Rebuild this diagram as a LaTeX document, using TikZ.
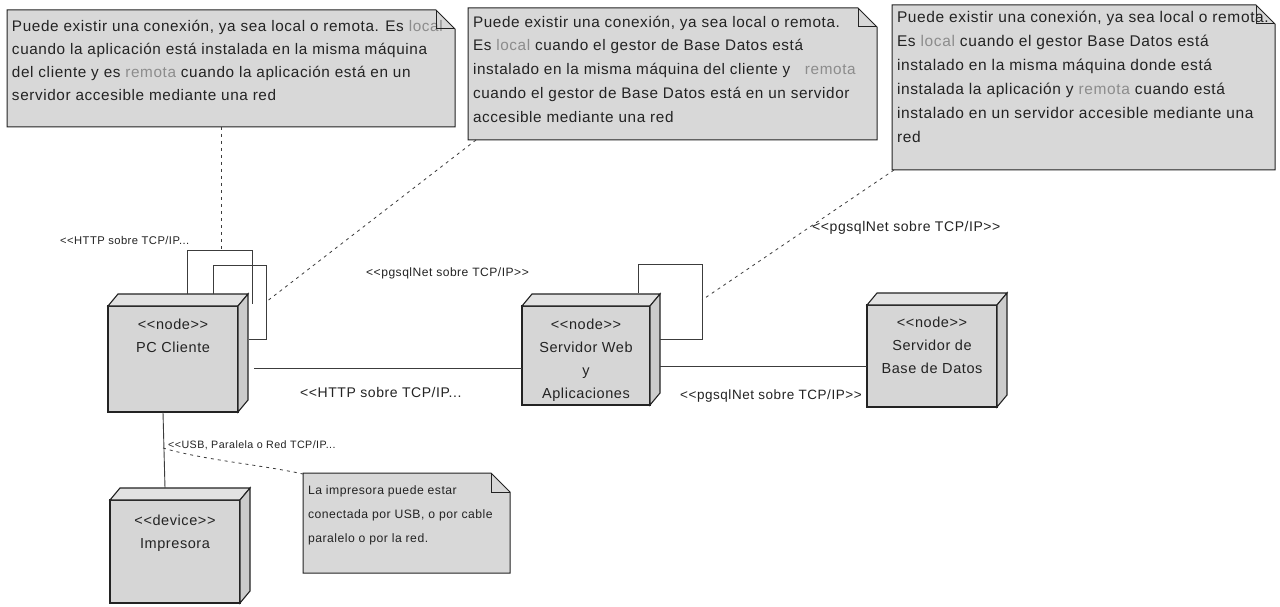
\documentclass[tikz,border=0pt]{standalone}
\usepackage{fontspec}
\setmainfont{Liberation Sans}[LetterSpace=4]
\usetikzlibrary{calc}

\definecolor{paper}{RGB}{255,255,255}
\definecolor{inkc}{RGB}{35,35,35}
\definecolor{notefill}{RGB}{216,216,216}
\definecolor{frontfill}{RGB}{214,214,214}
\definecolor{topfill}{RGB}{226,226,226}
\definecolor{sidefill}{RGB}{204,204,204}
\definecolor{faint}{RGB}{140,140,140}
\definecolor{wire}{RGB}{60,60,60}

\newcommand{\fw}[1]{\textcolor{faint}{#1}}
\newcommand{\notebody}[4]{\parbox[c][#2][t]{#1}{\raggedright\vspace*{#3}\leftskip=5pt #4}}
\newcommand{\fsz}[2]{\fontsize{#1}{#2}\selectfont}

\pgfdeclarelayer{paperlayer}
\pgfdeclarelayer{bg}
\pgfsetlayers{paperlayer,bg,main}

% folded-corner outline for a note node
\newcommand{\notefrm}[1]{%
  \begin{pgfonlayer}{bg}
    \filldraw[noteline, fill=notefill] (#1.north west) -- ([xshift=-19pt]#1.north east)
      -- ([yshift=-19pt]#1.north east) -- (#1.south east) -- (#1.south west) -- cycle;
  \end{pgfonlayer}
  \draw[noteline] ([xshift=-19pt]#1.north east) |- ([yshift=-19pt]#1.north east);
}
% top and side faces of a 3D deployment node
\newcommand{\cubefaces}[1]{%
  \filldraw[ink, fill=topfill] (#1.north west) -- ([shift={(10pt,12pt)}]#1.north west)
    -- ([shift={(10pt,12pt)}]#1.north east) -- (#1.north east) -- cycle;
  \filldraw[ink, fill=sidefill] (#1.north east) -- ([shift={(10pt,12pt)}]#1.north east)
    -- ([shift={(10pt,12pt)}]#1.south east) -- (#1.south east) -- cycle;
}

\begin{document}
\begin{tikzpicture}[x=1pt,y=-1pt,
  ink/.style={draw=inkc, line width=1.1pt},
  noteline/.style={draw=inkc, line width=1pt},
  wireline/.style={draw=wire, line width=0.9pt},
  dotline/.style={draw=wire, line width=0.8pt, dash pattern=on 3pt off 4pt},
  note/.style={anchor=north west, inner sep=0pt, outer sep=0pt, text=inkc},
  dev/.style={ink, fill=frontfill, anchor=north west, inner sep=0pt, outer sep=0pt},
  devtext/.style={anchor=north, inner sep=0pt, align=center, font=\fsz{14.5}{23}, text=inkc},
  lbl/.style={anchor=west, inner sep=0pt, text=inkc}]

\useasboundingbox (0,0) rectangle (1280,607);
\begin{pgfonlayer}{paperlayer}
  \fill[paper] (0,0) rectangle (1280,607);
\end{pgfonlayer}

% ---------- notes ----------
\node[note, font=\fsz{15.3}{23}] (n1) at (7,10) {\notebody{448pt}{117pt}{10pt}{%
Puede existir una conexión, ya sea local o remota. Es \fw{local}\\
cuando la aplicación está instalada en la misma máquina\\
del cliente y es \fw{remota} cuando la aplicación está en un\\
servidor accesible mediante una red}};
\notefrm{n1}

\node[note, font=\fsz{15.3}{23.7}] (n2) at (468,8) {\notebody{409pt}{132pt}{8pt}{%
Puede existir una conexión, ya sea local o remota.\\
Es \fw{local} cuando el gestor de Base Datos está\\
instalado en la misma máquina del cliente y \ \ \fw{remota}\\
cuando el gestor de Base Datos está en un servidor\\
accesible mediante una red}};
\notefrm{n2}

\node[note, font=\fsz{15.5}{24}] (n3) at (892,5) {\notebody{383pt}{165pt}{6pt}{%
Puede existir una conexión, ya sea local o remota.\\
Es \fw{local} cuando el gestor Base Datos está\\
instalado en la misma máquina donde está\\
instalada la aplicación y \fw{remota} cuando está\\
instalado en un servidor accesible mediante una\\
red}};
\notefrm{n3}

\node[note, font=\fsz{12.2}{24}] (n4) at (303,473) {\notebody{207pt}{100pt}{13pt}{%
La impresora puede estar\\
conectada por USB, o por cable\\
paralelo o por la red.}};
\notefrm{n4}

% ---------- deployment nodes ----------
\node[dev, minimum width=130pt, minimum height=106pt] (pc) at (108,306) {};
\cubefaces{pc}
\node[devtext] (pct) at ([yshift=-13pt]pc.north) {<{}<node>{}>\\PC Cliente};

\node[dev, minimum width=128pt, minimum height=99pt] (web) at (522,306) {};
\cubefaces{web}
\node[devtext] (webt) at ([yshift=-13pt]web.north) {<{}<node>{}>\\Servidor Web\\y\\Aplicaciones};

\node[dev, minimum width=130pt, minimum height=102pt] (db) at (867,305) {};
\cubefaces{db}
\node[devtext] (dbt) at ([yshift=-12pt]db.north) {<{}<node>{}>\\Servidor de\\Base de Datos};

\node[dev, minimum width=130pt, minimum height=103pt] (imp) at (110,500) {};
\cubefaces{imp}
\node[devtext] (impt) at ([yshift=-15pt]imp.north) {<{}<device>{}>\\Impresora};

% ---------- self connections ----------
\draw[wireline] ([shift={(79pt,12pt)}]pc.north west) -- ++(0,-44) coordinate (p1l)
  -- ++(65,0) coordinate (p1r) -- ++(0,54);
\coordinate (p1m) at ($(p1l)!0.53!(p1r)$);
\draw[wireline] ([shift={(105pt,12pt)}]pc.north west) -- ++(0,-29)
  -- ++(53,0) coordinate (p2r) -- ++(0,74) -- ++(-17,0);
\coordinate (p2m) at ($(p2r)+(0,37)$);
\draw[wireline] ([shift={(116pt,13pt)}]web.north west) -- ++(0,-29)
  -- ++(64,0) coordinate (w1r) -- ++(0,75) -- ++(-42,0);
\coordinate (w1m) at ($(w1r)+(0,36)$);

% ---------- links between nodes ----------
\coordinate (a1) at ([shift={(16pt,-9pt)}]pc.east);
\draw[wireline] (a1) -- (a1 -| web.west);
\coordinate (a2) at ([shift={(10pt,-11pt)}]web.east);
\draw[wireline] (a2) -- (a2 -| db.west);
\coordinate (a3) at ([xshift=-10pt]pc.south);
\draw[wireline] (a3) -- ([shift={(-10pt,12pt)}]imp.north);
\coordinate (a4) at ($(a3)+(0,36)$);

% ---------- note anchors ----------
\draw[dotline] (n1.south -| p1m) -- (p1m);
\draw[dotline] ([xshift=8pt]n2.south west) -- (p2m);
\draw[dotline] ([xshift=2pt]n3.south west) -- (w1m);
\draw[dotline] (a4) .. controls ++(40,12) and ($(n4.north west)+(-40,-8)$) .. ([yshift=-1pt]n4.north west);

% ---------- connector labels ----------
\node[lbl, font=\fsz{11.2}{14}] (l1) at (60,240) {<{}<HTTP sobre TCP/IP...};
\node[lbl, font=\fsz{12.1}{14}] (l2) at (366,273) {<{}<pgsqlNet sobre TCP/IP>{}>};
\node[lbl, font=\fsz{14}{16}] (l3) at (812,228) {<{}<pgsqlNet sobre TCP/IP>{}>};
\node[lbl, font=\fsz{14}{16}] (l4) at (300,392) {<{}<HTTP sobre TCP/IP...};
\node[lbl, font=\fsz{13.5}{16}] (l5) at (680,396) {<{}<pgsqlNet sobre TCP/IP>{}>};
\node[lbl, font=\fsz{10.7}{14}] (l6) at (168,445) {<{}<USB, Paralela o Red TCP/IP...};

\end{tikzpicture}
\end{document}
